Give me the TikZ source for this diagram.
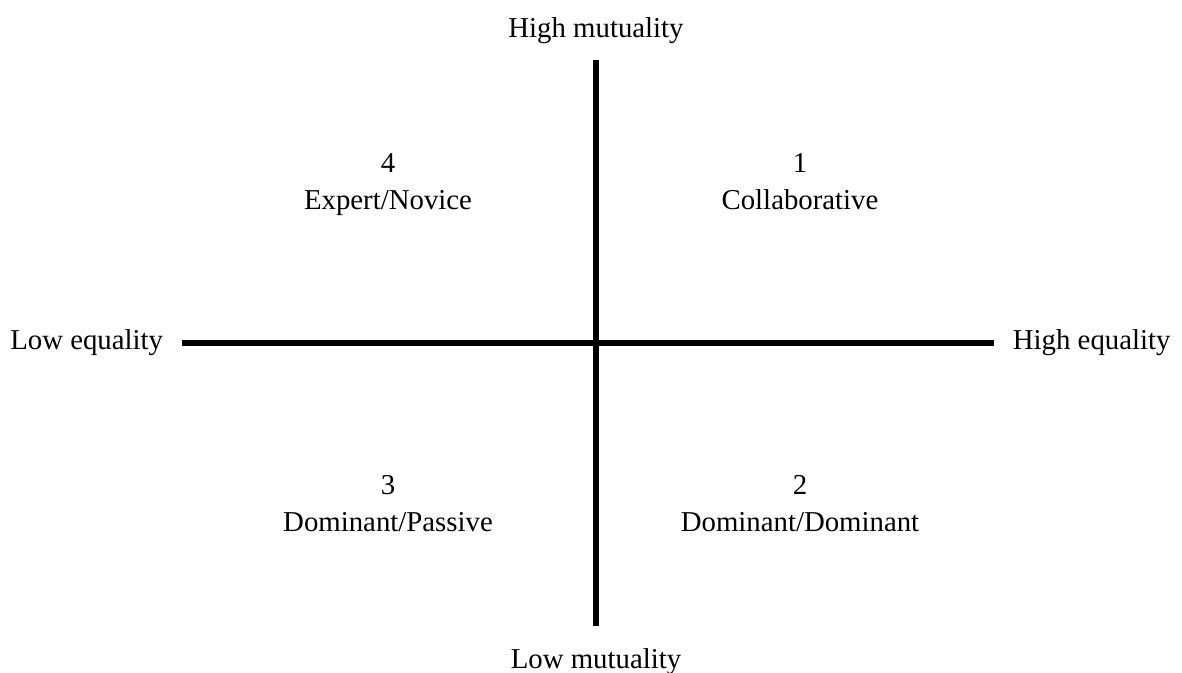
\documentclass[tikz,border=0pt]{standalone}
\usepackage{fontspec}
\setmainfont{Liberation Serif}
\usetikzlibrary{positioning}

\begin{document}
\begin{tikzpicture}[x=0.75pt, y=-0.75pt]
			\tikzset{
				axis/.style={line width=3.8pt},
				label/.style={font=\fontsize{21.6}{26}\selectfont, inner sep=0pt},
				quadrant/.style={font=\fontsize{21.6}{28}\selectfont, align=center, text centered, inner sep=0pt},
			}
			\useasboundingbox (0,0) rectangle (1182,673);
			\coordinate (top) at (596,60);
			\coordinate (bottom) at (596,626);
			\coordinate (left) at (182,343);
			\coordinate (right) at (994,343);
			\node[label, above=12pt of top](highmut){High mutuality};
			\node[label, below=17pt of bottom](lowmut){Low mutuality};
			\node[label, left=14pt of left](loweq){Low equality};
			\node[label, right=14pt of right](higheq){High equality};
			\node[quadrant](collab) at (800,187){1\\Collaborative\strut};
			\node[quadrant](expert) at (388,187){4\\Expert/Novice\strut};
			\node[quadrant](domdom) at (800,509){2\\Dominant/Dominant\strut};
			\node[quadrant](dompas) at (388,509){3\\Dominant/Passive\strut};
			%draw axes
			\draw[axis] (top) -- (bottom);
			\draw[axis] (left) -- (right);
		\end{tikzpicture}
\end{document}
